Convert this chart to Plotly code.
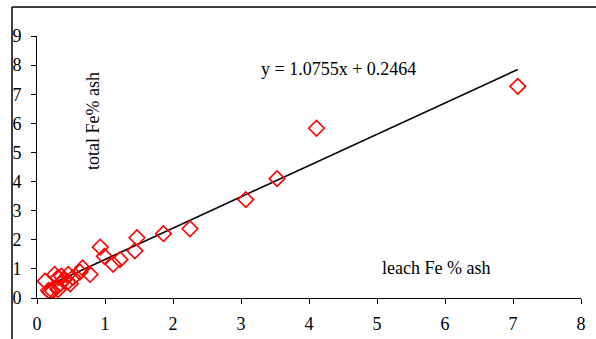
import plotly.graph_objects as go

# data
leach_fe = [0.12, 0.17, 0.19, 0.23, 0.26, 0.29, 0.31, 0.31, 0.34, 0.36, 0.39, 0.45, 0.46, 0.49, 0.53,
            0.63, 0.67, 0.78, 0.93, 0.99, 1.12, 1.22, 1.44, 1.47, 1.86, 2.25, 3.07, 3.53, 4.11, 7.07]
total_fe = [0.58, 0.26, 0.21, 0.24, 0.81, 0.38, 0.70, 0.29, 0.49, 0.75, 0.61, 0.55, 0.81, 0.49, 0.70,
            0.89, 1.03, 0.81, 1.75, 1.43, 1.16, 1.32, 1.62, 2.07, 2.21, 2.38, 3.38, 4.10, 5.83, 7.27]
slope = 1.0755
intercept = 0.2464
x_ticks = [0, 1, 2, 3, 4, 5, 6, 7, 8]
y_ticks = [0, 1, 2, 3, 4, 5, 6, 7, 8, 9]

W, H = 596, 339
L, R, T, B = 37, 15, 36, 41
pw, ph = W - L - R, H - T - B

def px(x):
    return (x - L) / pw

def py(y):
    return (H - B - y) / ph

font = "Liberation Serif, Times New Roman, serif"

xmin, xmax = min(leach_fe), max(leach_fe)
fig = go.Figure()
fig.add_trace(go.Scatter(
    x=[xmin, xmax], y=[slope * xmin + intercept, slope * xmax + intercept],
    mode="lines", line=dict(color="black", width=1.6), showlegend=False))
fig.add_trace(go.Scatter(
    x=leach_fe, y=total_fe, mode="markers",
    marker=dict(symbol="diamond-open", size=12, color="#ff0000", line=dict(width=1.6, color="#ff0000")),
    showlegend=False))

fig.update_layout(
    width=W, height=H, margin=dict(l=L, r=R, t=T, b=B, autoexpand=False),
    paper_bgcolor="white", plot_bgcolor="white",
    font=dict(family=font, size=18, color="black"),
    xaxis=dict(range=[0, 8], tickvals=x_ticks, showgrid=False, zeroline=False, automargin=False,
               showline=True, linecolor="black", linewidth=1, ticks="outside", ticklen=5,
               tickcolor="black", tickfont=dict(size=18, family=font), ticklabelstandoff=4),
    yaxis=dict(range=[0, 9], tickvals=y_ticks, showgrid=False, zeroline=False, automargin=False,
               showline=True, linecolor="black", linewidth=1, ticks="outside", ticklen=5,
               tickcolor="black", tickfont=dict(size=18, family=font), ticklabelstandoff=6),
    shapes=[
        dict(type="line", xref="paper", yref="paper", x0=px(12), x1=px(600), y0=py(7), y1=py(7),
             line=dict(color="black", width=1.5)),
        dict(type="line", xref="paper", yref="paper", x0=px(12), x1=px(12), y0=py(7), y1=py(345),
             line=dict(color="black", width=1.5)),
    ],
    annotations=[
        dict(text="y = 1.0755x + 0.2464", xref="paper", yref="paper", x=px(338), y=py(69),
             xanchor="center", yanchor="middle", showarrow=False, font=dict(size=18, family=font)),
        dict(text="total Fe% ash", xref="paper", yref="paper", x=px(93), y=py(121),
             xanchor="center", yanchor="middle", showarrow=False, textangle=-90,
             font=dict(size=18, family=font)),
        dict(text="leach Fe % ash", xref="paper", yref="paper", x=px(436), y=py(268),
             xanchor="center", yanchor="middle", showarrow=False, font=dict(size=18, family=font)),
    ],
)

fig.write_html("out.html")
